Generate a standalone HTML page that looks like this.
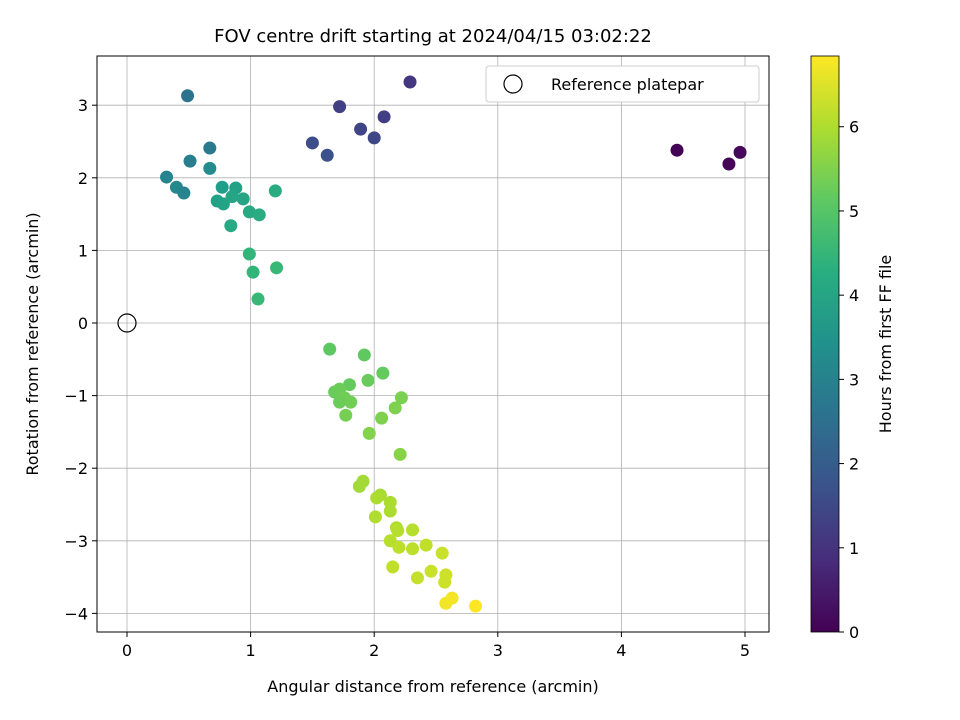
<!DOCTYPE html>
<html><head><meta charset="utf-8"><style>
body{margin:0;background:#fff;}
svg{display:block;font-family:"DejaVu Sans","Liberation Sans",sans-serif;}
</style></head><body>
<svg id="chart" width="960" height="720" viewBox="0 0 960 720">
<defs><linearGradient id="vir" x1="0" y1="1" x2="0" y2="0">
<stop offset="0" stop-color="#440154"/><stop offset="0.125" stop-color="#472d7b"/><stop offset="0.25" stop-color="#3b528b"/><stop offset="0.375" stop-color="#2c728e"/><stop offset="0.5" stop-color="#21918c"/><stop offset="0.625" stop-color="#28ae80"/><stop offset="0.75" stop-color="#5ec962"/><stop offset="0.875" stop-color="#addc30"/><stop offset="1" stop-color="#fde725"/></linearGradient></defs>
<text x="433" y="42" font-size="18" text-anchor="middle">FOV centre drift starting at 2024/04/15 03:02:22</text>
<g id="grid"></g><g id="pts"></g><g id="axes"></g>
<text x="433" y="692" font-size="16" text-anchor="middle">Angular distance from reference (arcmin)</text>
<text transform="translate(38,344) rotate(-90)" font-size="16" text-anchor="middle">Rotation from reference (arcmin)</text>
<g>
<rect x="486" y="66" width="273" height="36" rx="3" fill="#fff" stroke="#ccc"/>
<circle cx="513" cy="84" r="9" fill="none" stroke="#000" stroke-width="1.2"/>
<text x="551" y="90" font-size="16">Reference platepar</text></g>
<rect x="811" y="56" width="28" height="576" fill="url(#vir)" stroke="#000" stroke-width="0.8"/>
<g id="cb"></g>
<text transform="translate(891,344) rotate(-90)" font-size="16" text-anchor="middle">Hours from first FF file</text>
</svg>
<script>
const xs=[4.45,4.87,4.96, 2.29,1.72,2.08,1.89,2.0,1.5,1.62, 0.49,0.32,0.40,0.46,0.51,0.67,0.67, 0.77,0.88,0.73,0.78,0.85,0.94,0.84,0.99,1.07,1.20, 0.99,1.02,1.21,1.06, 1.64,1.92,2.07,1.95,1.80,1.68,1.72,1.76,1.72,1.81,1.77,2.22,2.17,2.06,1.96,2.21, 1.91,1.88,2.05,2.02,2.13,2.13,2.01,2.18,2.19,2.31,2.13,2.2,2.31,2.42,2.15,2.35,2.55,2.58,2.57,2.46, 2.58,2.63,2.82];
const ys=[2.38,2.19,2.35, 3.32,2.98,2.84,2.67,2.55,2.48,2.31, 3.13,2.01,1.87,1.79,2.23,2.41,2.13, 1.87,1.86,1.68,1.64,1.74,1.71,1.34,1.53,1.49,1.82, 0.95,0.70,0.76,0.33, -0.36,-0.44,-0.69,-0.79,-0.85,-0.95,-0.91,-1.03,-1.09,-1.09,-1.27,-1.03,-1.17,-1.31,-1.52,-1.81, -2.18,-2.25,-2.37,-2.41,-2.47,-2.59,-2.67,-2.82,-2.86,-2.85,-3.0,-3.09,-3.11,-3.06,-3.36,-3.51,-3.17,-3.47,-3.57,-3.42, -3.86,-3.79,-3.9];
const hours=[0.05,0.1,0.15, 1.1,1.3,1.25,1.4,1.45,1.6,1.7, 2.6,3.1,3.2,3.1,2.9,2.8,3.3, 3.8,3.9,3.9,3.95,4.0,4.0,4.1,4.1,4.2,4.2, 4.5,4.5,4.6,4.6, 5.1,5.15,5.2,5.25,5.2,5.25,5.3,5.35,5.3,5.35,5.4,5.45,5.5,5.5,5.55,5.6, 5.9,5.9,5.95,6.0,6.0,6.0,6.05,6.05,6.1,6.1,6.1,6.15,6.15,6.2,6.2,6.25,6.3,6.35,6.35,6.3, 6.7,6.75,6.84];
const xTicks=[0,1,2,3,4,5], yTicks=[3,2,1,0,-1,-2,-3,-4], cTicks=[0,1,2,3,4,5,6];
const L=97,R=769,T=56,B=632;
const X=v=>127+v*123.6, Y=v=>323-v*72.6, C=v=>632-v*(576/6.84);
const NS="http://www.w3.org/2000/svg";
function mk(tag,attrs,parent,txt){const e=document.createElementNS(NS,tag);for(const k in attrs)e.setAttribute(k,attrs[k]);if(txt!==undefined)e.textContent=txt;parent.appendChild(e);return e;}
const vir=[[68,1,84],[72,40,120],[62,74,137],[49,104,142],[38,130,142],[31,158,137],[53,183,121],[109,205,89],[180,222,44],[253,231,37]];
function col(h){let t=Math.max(0,Math.min(1,h/6.84))*9;const i=Math.min(8,Math.floor(t)),f=t-i;const a=vir[i],b=vir[i+1];return `rgb(${a.map((v,k)=>Math.round(v+(b[k]-v)*f)).join(',')})`;}
const grid=document.getElementById('grid'),axes=document.getElementById('axes'),pts=document.getElementById('pts'),cb=document.getElementById('cb');
xTicks.forEach(t=>{
const g=mk('line',{x1:X(t),x2:X(t),y1:T,y2:B,stroke:'#b0b0b0','stroke-width':0.8},grid);


mk('line',{x1:X(t),x2:X(t),y1:B,y2:B+5,stroke:'#000'},axes);
const l=mk('text',{x:X(t),y:B+24,'font-size':16,'text-anchor':'middle'},axes,String(t));

});
yTicks.forEach(t=>{
const g=mk('line',{x1:L,x2:R,y1:Y(t),y2:Y(t),stroke:'#b0b0b0','stroke-width':0.8},grid);


mk('line',{x1:L-5,x2:L,y1:Y(t),y2:Y(t),stroke:'#000'},axes);
const l=mk('text',{x:L-9,y:Y(t)+6,'font-size':16,'text-anchor':'end'},axes,t<0?'\u2212'+(-t):String(t));

});
const fr=mk('rect',{x:L,y:T,width:R-L,height:B-T,fill:'none',stroke:'#000','stroke-width':1},axes);


xs.forEach((x,i)=>{
const c=mk('circle',{cx:X(x),cy:Y(ys[i]),r:6.5,fill:col(hours[i])},pts);

});
const ref=mk('circle',{cx:X(0),cy:Y(0),r:9,fill:'none',stroke:'#000','stroke-width':1.2},pts);


cTicks.forEach(t=>{
mk('line',{x1:839,x2:844,y1:C(t),y2:C(t),stroke:'#000'},cb);
const l=mk('text',{x:849,y:C(t)+6,'font-size':16},cb,String(t));

});
</script>
</body></html>
